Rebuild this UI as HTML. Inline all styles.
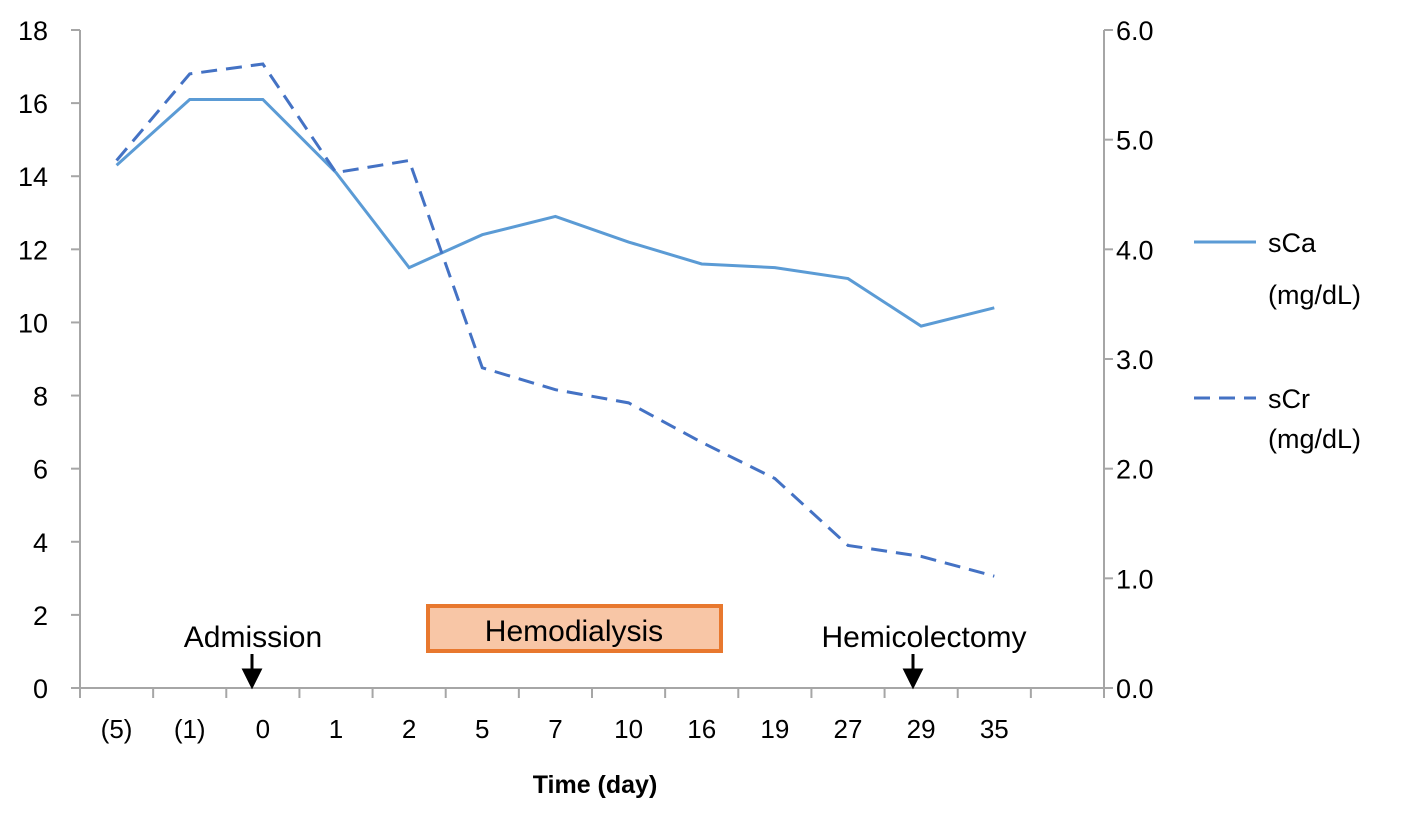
<!DOCTYPE html>
<html><head><meta charset="utf-8"><style>
body{margin:0;background:#fff;}
svg{display:block;font-family:"Liberation Sans",Arial,sans-serif;}
</style></head><body>
<svg id="chart" width="1417" height="817">
<g id="axes"></g><g id="series"></g>
<g>
<text x="253" y="647" font-size="30" text-anchor="middle" fill="#000">Admission</text>
<path d="M252 654 V676 M244 670 L252 686 L260 670 Z" stroke="#000" stroke-width="3" fill="#000"/>
<rect x="428" y="606" width="293" height="45" fill="#f8c6a6" stroke="#e8782e" stroke-width="4"/>
<text x="574" y="641" font-size="30" text-anchor="middle" fill="#000">Hemodialysis</text>
<text x="924" y="647" font-size="30" text-anchor="middle" fill="#000">Hemicolectomy</text>
<path d="M913 654 V676 M905 670 L913 686 L921 670 Z" stroke="#000" stroke-width="3" fill="#000"/>
<text x="595" y="793" font-size="25" font-weight="bold" text-anchor="middle" fill="#000">Time (day)</text>
</g>
<g>
<line x1="1194" y1="242" x2="1256" y2="242" stroke="#5b9bd5" stroke-width="3"/>
<text x="1268" y="252" font-size="27" fill="#000">sCa</text>
<text x="1268" y="304" font-size="27" fill="#000">(mg/dL)</text>
<line x1="1194" y1="398" x2="1256" y2="398" stroke="#4472c4" stroke-width="3" stroke-dasharray="16,9"/>
<text x="1268" y="408" font-size="27" fill="#000">sCr</text>
<text x="1268" y="448" font-size="27" fill="#000">(mg/dL)</text>
</g>
</svg>
<script>
const categories=["(5)","(1)","0","1","2","5","7","10","16","19","27","29","35"];
const scaValues=[14.3,16.1,16.1,14.1,11.5,12.4,12.9,12.2,11.6,11.5,11.2,9.9,10.4];
const scrValues=[4.81,5.6,5.69,4.7,4.81,2.92,2.72,2.6,2.24,1.91,1.3,1.2,1.02];
const leftTicks=[0,2,4,6,8,10,12,14,16,18];
const rightTicks=["0.0","1.0","2.0","3.0","4.0","5.0","6.0"];
const NS="http://www.w3.org/2000/svg";
const X0=80,X1=1104,Y0=688,Y1=30,SLOTS=14;
const sx=i=>X0+(X1-X0)/SLOTS*(i+0.5);
const syL=v=>Y0-(Y0-Y1)*v/18;
const syR=v=>Y0-(Y0-Y1)*v/6;
function mk(tag,attrs,parent){const e=document.createElementNS(NS,tag);for(const k in attrs)e.setAttribute(k,attrs[k]);parent.appendChild(e);return e;}
const ax=document.getElementById('axes'),se=document.getElementById('series');
let e;
e=mk('line',{x1:X0,y1:Y1,x2:X0,y2:Y0,stroke:'#a6a6a6','stroke-width':2},ax);


e=mk('line',{x1:X1,y1:Y1,x2:X1,y2:Y0,stroke:'#a6a6a6','stroke-width':2},ax);


e=mk('line',{x1:X0,y1:Y0,x2:X1,y2:Y0,stroke:'#a6a6a6','stroke-width':2},ax);


leftTicks.forEach(v=>{
 mk('line',{x1:X0-9,y1:syL(v),x2:X0,y2:syL(v),stroke:'#a6a6a6','stroke-width':2},ax);
 e=mk('text',{x:48,y:syL(v)+10,'font-size':27,'text-anchor':'end',fill:'#000'},ax);e.textContent=v;
 
 
});
rightTicks.forEach(v=>{
 mk('line',{x1:X1,y1:syR(+v),x2:X1+9,y2:syR(+v),stroke:'#a6a6a6','stroke-width':2},ax);
 e=mk('text',{x:1116,y:syR(+v)+10,'font-size':27,fill:'#000'},ax);e.textContent=v;
 
 
});
for(let i=0;i<=SLOTS;i++){const x=X0+(X1-X0)/SLOTS*i;mk('line',{x1:x,y1:Y0,x2:x,y2:Y0+10,stroke:'#a6a6a6','stroke-width':2},ax);}
categories.forEach((c,i)=>{
 e=mk('text',{x:sx(i),y:738,'font-size':26,'text-anchor':'middle',fill:'#000'},ax);e.textContent=c;
 
 
});
e=mk('polyline',{points:scaValues.map((v,i)=>sx(i)+','+syL(v)).join(' '),fill:'none',stroke:'#5b9bd5','stroke-width':3},se);


e=mk('polyline',{points:scrValues.map((v,i)=>sx(i)+','+syR(v)).join(' '),fill:'none',stroke:'#4472c4','stroke-width':3,'stroke-dasharray':'16,9'},se);


</script>
</body></html>
